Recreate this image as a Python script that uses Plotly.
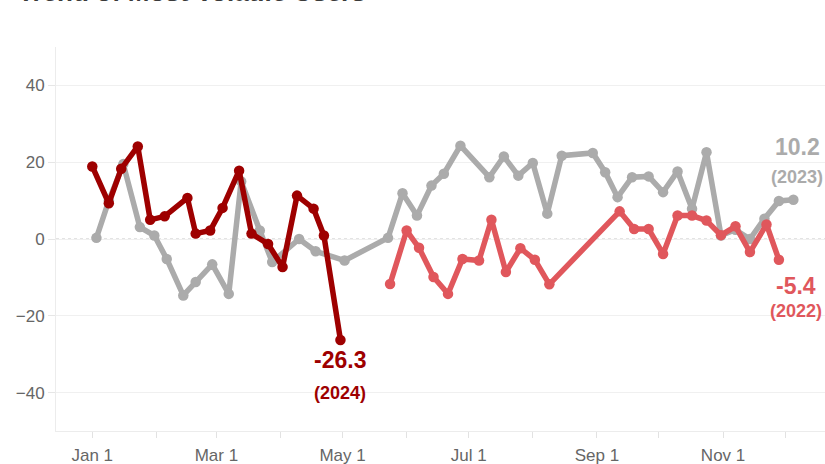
import plotly.graph_objects as go

# ---- data (all series placed on a common 2024 calendar) ----
dates_2024 = ["2024-01-01", "2024-01-09", "2024-01-15", "2024-01-23", "2024-01-29", "2024-02-05",
              "2024-02-16", "2024-02-20", "2024-02-27", "2024-03-04", "2024-03-12", "2024-03-18",
              "2024-03-26", "2024-04-02", "2024-04-09", "2024-04-17", "2024-04-22", "2024-04-30"]
values_2024 = [18.9, 9.3, 18.3, 24.1, 5.0, 5.9, 10.7, 1.4, 2.2, 8.1, 17.8, 1.4, -1.3, -7.3, 11.3, 7.9, 0.9, -26.3]

dates_2023 = ["2024-01-03", "2024-01-09", "2024-01-16", "2024-01-24", "2024-01-31", "2024-02-06",
              "2024-02-14", "2024-02-20", "2024-02-28", "2024-03-07", "2024-03-13", "2024-03-22",
              "2024-03-28", "2024-04-10", "2024-04-18", "2024-05-02", "2024-05-23", "2024-05-30",
              "2024-06-06", "2024-06-13", "2024-06-19", "2024-06-27", "2024-07-11", "2024-07-18",
              "2024-07-25", "2024-08-01", "2024-08-08", "2024-08-15", "2024-08-30", "2024-09-05",
              "2024-09-11", "2024-09-18", "2024-09-26", "2024-10-03", "2024-10-10", "2024-10-17",
              "2024-10-24", "2024-10-31", "2024-11-07", "2024-11-14", "2024-11-21", "2024-11-28",
              "2024-12-05"]
values_2023 = [0.3, 10.0, 19.5, 3.1, 0.9, -5.2, -14.7, -11.2, -6.6, -14.3, 15.0, 2.2,
               -6.0, 0.0, -3.2, -5.6, 0.3, 11.9, 6.1, 13.9, 17.0, 24.3, 16.1, 21.5,
               16.5, 19.8, 6.6, 21.7, 22.4, 17.4, 10.9, 16.1, 16.3, 12.2, 17.6, 7.9,
               22.6, 0.9, 2.4, 0.0, 5.3, 9.9, 10.2]

dates_2022 = ["2024-05-24", "2024-06-01", "2024-06-07", "2024-06-14", "2024-06-21", "2024-06-28",
              "2024-07-06", "2024-07-12", "2024-07-19", "2024-07-26", "2024-08-02", "2024-08-09",
              "2024-09-12", "2024-09-19", "2024-09-26", "2024-10-03", "2024-10-10", "2024-10-17",
              "2024-10-24", "2024-10-31", "2024-11-07", "2024-11-14", "2024-11-22", "2024-11-28"]
values_2022 = [-11.7, 2.2, -2.3, -9.9, -14.3, -5.2, -5.6, 5.0, -8.6, -2.4, -5.4, -11.8,
               7.2, 2.6, 2.6, -3.9, 6.1, 6.1, 4.8, 1.0, 3.3, -3.4, 3.8, -5.4]

y_ticks = [-40, -20, 0, 20, 40]
x_range = ["2023-12-14 11:00", "2024-12-20 07:00"]

C2024 = "#9e0000"
C2022 = "#e0575c"
C2023 = "#ababab"
FONT = "Liberation Sans, Arial, sans-serif"

fig = go.Figure()
for d, v, c, name in [(dates_2023, values_2023, C2023, "2023"),
                      (dates_2022, values_2022, C2022, "2022"),
                      (dates_2024, values_2024, C2024, "2024")]:
    fig.add_trace(go.Scatter(x=d, y=v, mode="lines+markers", name=name,
                             line=dict(color=c, width=5.5),
                             marker=dict(color=c, size=10.5)))

# zero line dotted
fig.add_shape(type="line", xref="paper", x0=0, x1=1, yref="y", y0=0, y1=0,
              line=dict(color="#c8c8c8", width=1.2, dash="dot"), layer="below")

def label(x, y, text, color, size, xs, ys):
    fig.add_annotation(x=x, y=y, xref="x", yref="y", text=f"<b>{text}</b>", showarrow=False,
                       font=dict(color=color, size=size, family=FONT), xshift=xs, yshift=ys)

label(dates_2024[-1], values_2024[-1], f"{values_2024[-1]}", C2024, 23, 0, -20)
label(dates_2024[-1], values_2024[-1], "(2024)", C2024, 18, 0, -53)
label(dates_2023[-1], values_2023[-1], f"{values_2023[-1]}", C2023, 23, 4, 53)
label(dates_2023[-1], values_2023[-1], "(2023)", C2023, 18, 4, 23)
label(dates_2022[-1], values_2022[-1], f"{values_2022[-1]}", C2022, 23, 17, -26)
label(dates_2022[-1], values_2022[-1], "(2022)", C2022, 18, 17, -51)

# partially visible title at the very top
fig.add_annotation(x=0, y=1, xref="paper", yref="paper", xanchor="left", yanchor="bottom",
                   xshift=-40, yshift=38, showarrow=False,
                   text="<b>Trend of Most Volatile Users</b>",
                   font=dict(color="#3a3a3a", size=26, family=FONT))

fig.update_layout(
    width=825, height=464,
    margin=dict(l=56, r=0, t=47, b=33),
    paper_bgcolor="white", plot_bgcolor="white",
    showlegend=False,
    font=dict(family=FONT, color="#666", size=17),
    xaxis=dict(type="date", range=x_range, tick0="2024-01-01", dtick="M2",
               tickformat="%b %-d", ticks="outside", ticklen=6, tickcolor="#e2e2e2",
               ticklabelstandoff=3,
               showgrid=False, showline=True, linecolor="#ececec", linewidth=1,
               zeroline=False, automargin=False, tickfont=dict(size=17, color="#666"),
               minor=dict(dtick="M1", tick0="2024-01-01", ticks="outside", ticklen=6,
                          tickcolor="#e2e2e2", showgrid=False)),
    yaxis=dict(range=[-50, 50], tickvals=y_ticks,
               ticks="outside", ticklen=7, tickcolor="#e6e6e6",
               showgrid=True, gridcolor="#f0f0f0", gridwidth=1,
               showline=True, linecolor="#ececec", zeroline=False, automargin=False,
               tickfont=dict(size=17, color="#666")),
)

fig.write_html("out.html", config={"displayModeBar": False},
               post_script="document.body.style.margin='0';document.body.style.overflow='hidden';")
